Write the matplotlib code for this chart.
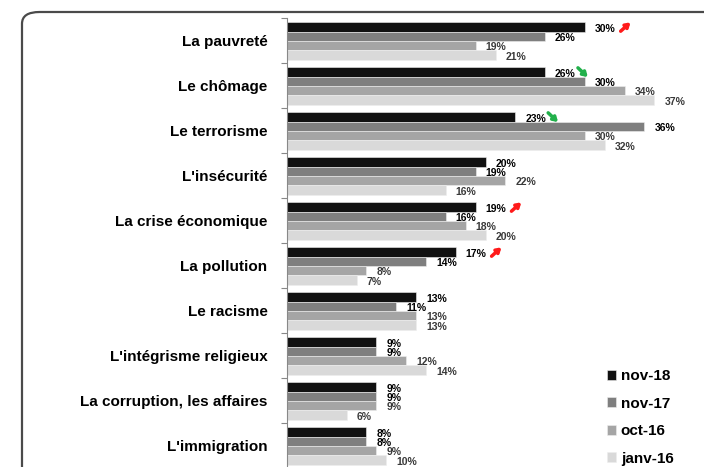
import matplotlib.pyplot as plt
import numpy as np
from matplotlib.patches import FancyBboxPatch, FancyArrowPatch

plt.rcParams['font.family'] = ['Liberation Sans', 'DejaVu Sans']

categories = ['La pauvreté', 'Le chômage', 'Le terrorisme', "L'insécurité",
              'La crise économique', 'La pollution', 'Le racisme',
              "L'intégrisme religieux", 'La corruption, les affaires',
              "L'immigration"]
series = ['nov-18', 'nov-17', 'oct-16', 'janv-16']
nov18 = [30, 26, 23, 20, 19, 17, 13, 9, 9, 8]
nov17 = [26, 30, 36, 19, 16, 14, 11, 9, 9, 8]
oct16 = [19, 34, 30, 22, 18, 8, 13, 12, 9, 9]
janv16 = [21, 37, 32, 16, 20, 7, 13, 14, 6, 10]
# trend arrows on nov-18 value: 'up' (red) or 'down' (green)
trends = {0: 'up', 1: 'down', 2: 'down', 4: 'up', 5: 'up'}

colors = ['#111111', '#7f7f7f', '#a5a5a5', '#d9d9d9']
label_colors = ['#000000', '#000000', '#3a3a3a', '#3a3a3a']

fig = plt.figure(figsize=(7.04, 4.67), dpi=100)

# rounded frame around the chart (right and bottom run off the picture)
frame = FancyBboxPatch((22 / 704, -0.1), 1.2, 1 - 12 / 467 + 0.1,
                       boxstyle='round,pad=0,rounding_size=0.025',
                       transform=fig.transFigure, facecolor='white',
                       edgecolor='#4a4a4a', linewidth=1.6, zorder=-5)
fig.patches.append(frame)

ax = fig.add_axes([287 / 704, -1 / 467, 1 - 287 / 704, 450 / 467])
ax.set_facecolor('none')
ax.set_zorder(2)

n = len(categories)
h = 0.21
values = [nov18, nov17, oct16, janv16]
for k, (vals, col) in enumerate(zip(values, colors)):
    y = np.arange(n) + 0.09 + h * (k + 0.5)
    ax.barh(y, vals, height=h, color=col, edgecolor='#eeeeee', linewidth=0.4,
            label=series[k])
    for yi, v in zip(y, vals):
        ax.text(v + 1.0, yi + 0.04, f'{v}%', ha='left', va='center',
                fontsize=7.5, fontweight='bold', color=label_colors[k])

for i, t in trends.items():
    v = nov18[i]
    y0 = i + 0.09 + h * 0.5
    if t == 'up':
        start, end, col = (v + 3.4, y0 + 0.14), (v + 4.8, y0 - 0.14), '#ff1a1a'
    else:
        start, end, col = (v + 3.1, y0 - 0.13), (v + 4.5, y0 + 0.16), '#22b04b'
    ax.add_patch(FancyArrowPatch(start, end,
                                 arrowstyle='-|>,head_length=2.5,head_width=1.6',
                                 color=col, linewidth=2.5, mutation_scale=1,
                                 capstyle='round'))

ax.set_xlim(0, 42)
ax.set_ylim(n, 0)
ax.set_xticks([])
ax.set_yticks(np.arange(n + 1))
ax.set_yticklabels([])
ax.set_yticks(np.arange(n) + 0.5, minor=True)
ax.set_yticklabels(categories, minor=True, fontsize=11, fontweight='bold')
ax.tick_params(axis='y', which='major', length=4, color='#888888', width=0.8)
ax.tick_params(axis='y', which='minor', length=0, pad=14)
for s in ['top', 'right', 'bottom']:
    ax.spines[s].set_visible(False)
ax.spines['left'].set_color('#888888')
ax.spines['left'].set_linewidth(0.8)

leg = ax.legend(loc='lower right', bbox_to_anchor=(0.96, -0.025), frameon=False,
                prop={'size': 11, 'weight': 'bold'}, handlelength=0.6,
                handleheight=0.6, handletextpad=0.3, labelspacing=0.88)

fig.savefig('out.png', dpi=100)
